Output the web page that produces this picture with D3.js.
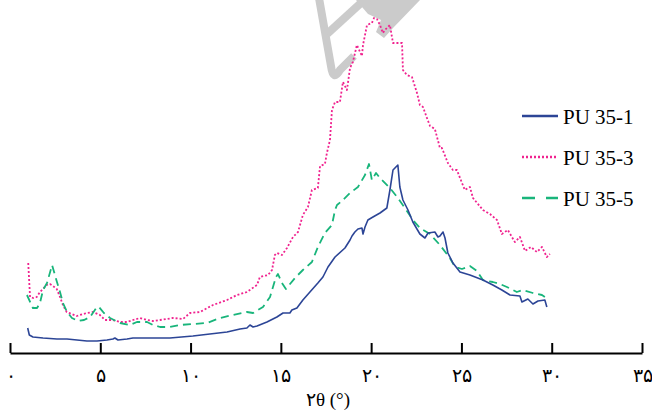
<!DOCTYPE html>
<html>
<head>
<meta charset="utf-8">
<script src="https://cdn.jsdelivr.net/npm/d3@7"></script>
<style>
  body { margin: 0; background: #fff; }
  svg { display: block; }
</style>
</head>
<body>
<svg width="652" height="410"></svg>
<script>
// 2theta (deg) and intensity (a.u.)
const pu3X = [1.01,1.11,1.29,1.48,1.66,2.03,2.21,2.38,2.59,2.77,2.93,3.14,3.69,4.25,4.60,4.98,5.26,5.70,6.09,6.48,6.81,7.20,7.59,7.92,8.31,9.03,9.58,9.97,10.52,11.24,12.02,12.57,13.12,13.68,13.84,14.29,14.51,14.67,14.78,15.06,15.34,15.67,15.95,16.22,16.50,16.72,17.05,17.17,17.44,17.55,17.72,17.83,18.00,18.27,18.44,18.66,18.83,18.99,19.21,19.49,19.55,19.77,20.04,20.16,20.32,20.49,20.65,20.76,20.93,21.04,21.21,21.59,21.71,21.76,21.98,22.26,22.54,22.70,22.87,23.09,23.26,23.53,23.81,23.92,24.25,24.53,24.75,25.03,25.19,25.47,25.64,26.19,26.58,26.97,27.24,27.57,27.96,28.24,28.52,28.85,29.18,29.46,29.73,29.90];
const pu3Y = [90,56,55,56,61,68,69,67,64,56,48,41,37,40,41,38,33,33,31,31,33,35,33,32,33,35,34,40,41,48,53,58,61,68,76,78,83,98,100,98,105,116,121,138,146,163,165,187,189,200,213,243,251,251,271,263,285,291,308,297,308,328,330,335,334,328,320,323,326,328,310,310,310,283,278,276,260,248,246,235,227,224,205,205,190,183,183,170,163,166,155,143,139,133,119,123,111,116,102,106,101,106,96,99];

const pu5X = [0.94,1.27,1.50,1.66,1.83,2.05,2.33,2.60,2.77,2.93,3.16,3.43,3.77,4.10,4.43,4.82,4.93,5.20,5.54,6.09,6.64,7.03,7.59,7.92,8.31,8.86,9.41,10.13,10.91,11.63,12.35,13.12,13.46,14.01,14.40,14.73,14.84,15.06,15.28,15.78,16.22,16.72,17.05,17.44,17.83,18.00,18.11,18.38,18.83,19.27,19.66,19.88,20.04,20.27,20.49,20.60,21.04,21.48,21.98,22.31,22.70,23.26,23.81,24.36,24.64,25.03,25.47,25.86,26.19,26.74,27.13,27.52,28.07,28.41,28.96,29.46,29.62];
const pu5Y = [58,45,45,50,63,70,88,71,61,50,41,35,32,33,36,46,46,40,35,30,28,31,31,28,26,26,28,29,30,35,38,41,40,46,56,76,79,70,64,75,83,91,106,120,128,143,148,152,160,166,178,189,173,180,175,173,165,155,142,133,125,119,108,95,86,84,87,82,73,71,69,66,61,63,60,58,56];

const pu1X = [0.98,1.07,1.27,1.83,2.60,3.16,3.71,4.26,4.82,5.37,5.70,5.81,5.98,6.48,6.81,7.75,8.86,10.13,11.07,12.02,12.74,13.12,13.29,13.46,13.68,14.23,14.78,15.12,15.50,15.61,15.89,16.22,16.61,17.05,17.33,17.61,18.00,18.55,18.83,18.94,19.10,19.27,19.49,19.55,19.66,19.82,20.10,20.49,20.87,21.04,21.21,21.48,21.59,21.76,22.04,22.31,22.70,22.98,23.15,23.53,23.70,23.81,23.98,24.09,24.25,24.53,24.92,25.47,26.19,26.74,27.24,27.69,28.24,28.35,28.68,28.96,29.24,29.62,29.73];
const pu1Y = [25,18,16,15,14,14,13,12,12,13,14,15,13,14,15,15,15,17,19,21,24,25,28,26,27,31,36,40,40,43,45,53,61,70,76,86,96,105,113,117,121,124,125,119,126,133,136,140,145,163,183,188,166,153,143,131,119,115,120,121,116,117,121,115,100,90,81,78,73,68,63,58,57,51,54,49,52,53,46];

const seriesNames = ['PU 35-1', 'PU 35-3', 'PU 35-5'];
const tickValues = [0, 5, 10, 15, 20, 25, 30, 35];
const tickLabels = ['۰', '۵', '۱۰', '۱۵', '۲۰', '۲۵', '۳۰', '۳۵'];
const xTitle = '۲θ (°)';

const serif = '"Liberation Serif", "Times New Roman", "DejaVu Serif", serif';
const svg = d3.select('svg');
const baseY = 353;

const xScale = d3.scaleLinear().domain([0, 35]).range([10, 642]);
const yScale = d3.scaleLinear().domain([0, 353]).range([baseY, 0]);

// watermark in the background
const wm = svg.append('g').attr('fill', 'none').attr('stroke', '#cbcbcb').attr('stroke-width', 8);
wm.append('path').attr('d', 'M319,-2 L331,66 Q333,82 340,70 L354,56');
wm.append('path').attr('d', 'M327,34 L362,2');
svg.append('path')
  .attr('d', 'M356,0 L420,0 L393,28 L384,38 L376,32 L381,20 L368,14 Z')
  .attr('fill', '#cbcbcb');

const line = (xs, ys) => d3.line()
  .x((d, i) => xScale(xs[i]))
  .y((d, i) => yScale(ys[i]))
  .curve(d3.curveLinear)(xs);

const series = [
  { name: seriesNames[1], xs: pu3X, ys: pu3Y, color: '#f0238f', dash: '2,2', w: 1.8 },
  { name: seriesNames[2], xs: pu5X, ys: pu5Y, color: '#19b57b', dash: '8,5', w: 1.8 },
  { name: seriesNames[0], xs: pu1X, ys: pu1Y, color: '#2c4596', dash: null, w: 1.6 }
];

series.forEach(s => {
  svg.append('path')
    .attr('d', line(s.xs, s.ys))
    .attr('fill', 'none')
    .attr('stroke', s.color)
    .attr('stroke-width', s.w)
    .attr('stroke-dasharray', s.dash)
    .attr('stroke-linejoin', 'round');
});

// x axis, ticks pointing up
const xAxis = d3.axisBottom(xScale)
  .tickValues(tickValues)
  .tickFormat((d, i) => tickLabels[i])
  .tickSizeInner(-10)
  .tickSizeOuter(0)
  .tickPadding(16);

const ax = svg.append('g')
  .attr('transform', 'translate(0,' + baseY + ')')
  .call(xAxis);
ax.select('.domain').attr('stroke', '#000').attr('stroke-width', 2);
ax.selectAll('.tick line').attr('stroke', '#000').attr('stroke-width', 2);
ax.selectAll('.tick text')
  .attr('font-size', 19)
  .attr('fill', '#000')
  .style('font-family', serif);

svg.append('text')
  .attr('x', 328)
  .attr('y', 406)
  .attr('text-anchor', 'middle')
  .attr('font-size', 19)
  .style('font-family', serif)
  .text(xTitle);

// legend
const legend = [
  { name: seriesNames[0], color: '#2c4596', dash: null, y: 116 },
  { name: seriesNames[1], color: '#f0238f', dash: '2,2', y: 157 },
  { name: seriesNames[2], color: '#19b57b', dash: '13,11', y: 198 }
];
legend.forEach(l => {
  svg.append('line')
    .attr('x1', 522).attr('x2', 558)
    .attr('y1', l.y).attr('y2', l.y)
    .attr('stroke', l.color)
    .attr('stroke-width', 2.5)
    .attr('stroke-dasharray', l.dash);
  svg.append('text')
    .attr('x', 563)
    .attr('y', l.y + 8)
    .attr('font-size', 21)
    .attr('fill', '#000')
    .style('font-family', serif)
    .text(l.name);
});
</script>
</body>
</html>
